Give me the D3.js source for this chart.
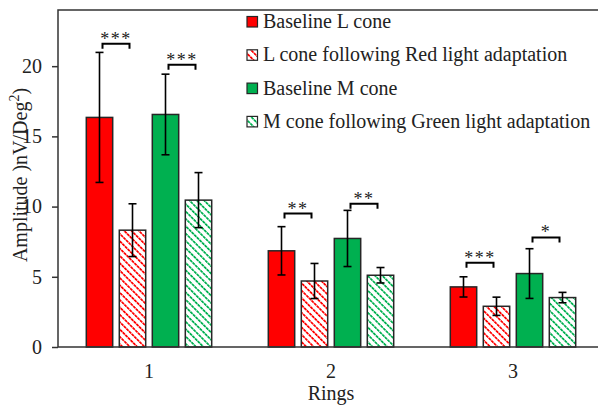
<!DOCTYPE html>
<html>
<head>
<meta charset="utf-8">
<script src="https://cdn.jsdelivr.net/npm/d3@7"></script>
<style>
	body { margin: 0; background: #fff; }
	svg { display: block; font-family: "Liberation Serif", "Times New Roman", serif; }
</style>
</head>
<body>
<svg id="chart" width="598" height="405"></svg>
<script>
var rings = ['1', '2', '3'];
var seriesNames = ['Baseline L cone', 'L cone following Red light adaptation', 'Baseline M cone', 'M cone following Green light adaptation'];
var baselineL = [16.35, 6.85, 4.28];
var redAdaptL = [8.32, 4.70, 2.90];
var baselineM = [16.56, 7.73, 5.23];
var greenAdaptM = [10.46, 5.11, 3.52];
var errBaselineL = [4.63, 1.72, 0.72];
var errRedAdaptL = [1.88, 1.25, 0.65];
var errBaselineM = [2.87, 2.0, 1.77];
var errGreenAdaptM = [1.96, 0.55, 0.37];
// significance: ring, bar pair, bracket level, label
var sigRing = ['1', '1', '2', '2', '3', '3'];
var sigPair = [[0, 1], [2, 3], [0, 1], [2, 3], [0, 1], [2, 3]];
var sigLevel = [21.6, 20.1, 9.5, 10.2, 6.0, 7.8];
var sigLabel = ['***', '***', '**', '**', '***', '*'];
var yTicks = [0, 5, 10, 15, 20];

(function () {
	var svg = d3.select('#chart');
	var left = 58, top = 10, bottom = 347, step = 182;
	var colors = ['#ff0000', '#ff0000', '#00b050', '#00b050'];
	var hatched = [false, true, false, true];
	var values = [baselineL, redAdaptL, baselineM, greenAdaptM];
	var errors = [errBaselineL, errRedAdaptL, errBaselineM, errGreenAdaptM];

	var x = d3.scaleBand().domain(rings).range([left, left + step * rings.length]);
	var sub = d3.scaleBand().domain(d3.range(4)).range([-66, 66]).paddingInner(0.2).paddingOuter(0.1);
	var y = d3.scaleLinear().domain([0, 24]).range([bottom, top]);

	var defs = svg.append('defs');
	[['hatchRed', '#ff0000'], ['hatchGreen', '#00b050']].forEach(function (p) {
		var pat = defs.append('pattern')
			.attr('id', p[0])
			.attr('patternUnits', 'userSpaceOnUse')
			.attr('width', 7.4).attr('height', 5.2)
			.attr('patternTransform', 'rotate(45)');
		pat.append('rect').attr('width', 7.4).attr('height', 5.2).attr('fill', '#fff');
		pat.append('line')
			.attr('x1', 0).attr('x2', 7.4).attr('y1', 2.6).attr('y2', 2.6)
			.attr('stroke', p[1]).attr('stroke-width', 1.8)
			.attr('stroke-dasharray', '3.1 0.6');
	});
	function fillOf(i) {
		if (!hatched[i]) return colors[i];
		return i < 2 ? 'url(#hatchRed)' : 'url(#hatchGreen)';
	}

	var rows = [];
	rings.forEach(function (r, ri) {
		for (var s = 0; s < 4; s++) {
			rows.push({ring: r, s: s, v: values[s][ri], e: errors[s][ri]});
		}
	});
	function cx(d) { return x(d.ring) + x.bandwidth() / 2 + sub(d.s) + sub.bandwidth() / 2; }

	svg.selectAll('rect.bar')
		.data(rows)
		.enter().append('rect')
		.attr('class', 'bar')
		.attr('x', function (d) { return x(d.ring) + x.bandwidth() / 2 + sub(d.s); })
		.attr('y', function (d) { return y(d.v); })
		.attr('width', sub.bandwidth())
		.attr('height', function (d) { return y(0) - y(d.v); })
		.attr('fill', function (d) { return fillOf(d.s); })
		.attr('stroke', '#262626')
		.attr('stroke-width', 1.5);

	var err = svg.selectAll('g.err')
		.data(rows)
		.enter().append('g')
		.attr('stroke', '#000')
		.attr('stroke-width', 1.6);
	err.append('line')
		.attr('x1', cx).attr('x2', cx)
		.attr('y1', function (d) { return y(d.v + d.e); })
		.attr('y2', function (d) { return y(d.v - d.e); });
	err.append('line')
		.attr('x1', function (d) { return cx(d) - 4; }).attr('x2', function (d) { return cx(d) + 4; })
		.attr('y1', function (d) { return y(d.v + d.e); })
		.attr('y2', function (d) { return y(d.v + d.e); });
	err.append('line')
		.attr('x1', function (d) { return cx(d) - 4; }).attr('x2', function (d) { return cx(d) + 4; })
		.attr('y1', function (d) { return y(d.v - d.e); })
		.attr('y2', function (d) { return y(d.v - d.e); });

	// frame: top line, left axis, baseline
	svg.append('path')
		.attr('d', 'M598,' + top + 'H' + left + 'V' + bottom + 'H598')
		.attr('fill', 'none').attr('stroke', '#333').attr('stroke-width', 1.5);

	var yAxis = svg.append('g')
		.attr('transform', 'translate(' + left + ',0)')
		.call(d3.axisLeft(y).tickValues(yTicks).tickSize(6).tickPadding(10));
	yAxis.select('.domain').remove();
	yAxis.selectAll('line').attr('stroke', '#333').attr('stroke-width', 1.5);
	yAxis.selectAll('text').attr('font-size', 20).attr('fill', '#222').attr('font-family', 'Liberation Serif');

	svg.append('g').selectAll('text')
		.data(rings)
		.enter().append('text')
		.attr('x', function (d) { return x(d) + x.bandwidth() / 2; })
		.attr('y', 378)
		.attr('text-anchor', 'middle')
		.attr('font-size', 20)
		.attr('fill', '#222')
		.text(function (d) { return d; });

	svg.append('text')
		.attr('x', x('2') + x.bandwidth() / 2)
		.attr('y', 400)
		.attr('text-anchor', 'middle')
		.attr('font-size', 20)
		.attr('fill', '#222')
		.text('Rings');

	var yl = svg.append('text')
		.attr('transform', 'translate(27,175) rotate(-90)')
		.attr('text-anchor', 'middle')
		.attr('font-size', 20)
		.attr('fill', '#222');
	yl.append('tspan').text('Amplitude )nV/Deg');
	yl.append('tspan').attr('font-size', 14).attr('dy', -8).text('2');
	yl.append('tspan').attr('dy', 8).text(')');

	// significance brackets
	var sig = svg.selectAll('g.sig')
		.data(sigLabel)
		.enter().append('g');
	sig.append('path')
		.attr('d', function (d, i) {
			var c = x(sigRing[i]) + x.bandwidth() / 2 + sub.bandwidth() / 2;
			var x1 = c + sub(sigPair[i][0]) + 3, x2 = c + sub(sigPair[i][1]) - 3;
			var yy = y(sigLevel[i]);
			return 'M' + x1 + ',' + (yy + 5) + 'V' + yy + 'H' + x2 + 'V' + (yy + 5);
		})
		.attr('fill', 'none').attr('stroke', '#000').attr('stroke-width', 2);
	sig.append('text')
		.attr('x', function (d, i) {
			var c = x(sigRing[i]) + x.bandwidth() / 2 + sub.bandwidth() / 2;
			return c + (sub(sigPair[i][0]) + sub(sigPair[i][1])) / 2;
		})
		.attr('y', function (d, i) { return y(sigLevel[i]) + 1; })
		.attr('text-anchor', 'middle')
		.attr('font-size', 18)
		.attr('letter-spacing', 1.5)
		.attr('fill', '#222')
		.text(function (d) { return d; });

	// legend
	var leg = svg.selectAll('g.leg')
		.data(seriesNames)
		.enter().append('g')
		.attr('transform', function (d, i) { return 'translate(247,' + (16.5 + i * 33.3) + ')'; });
	leg.append('rect')
		.attr('width', 10.5).attr('height', 10.5)
		.attr('fill', function (d, i) { return fillOf(i); })
		.attr('stroke', '#262626').attr('stroke-width', 1.2);
	leg.append('text')
		.attr('x', 16).attr('y', 11.5)
		.attr('font-size', 20)
		.attr('fill', '#222')
		.text(function (d) { return d; });
}());
</script>
</body>
</html>
